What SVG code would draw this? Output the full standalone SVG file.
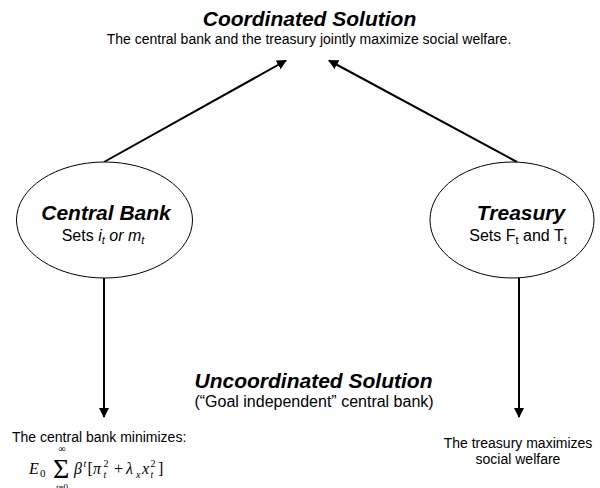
<svg xmlns="http://www.w3.org/2000/svg" width="600" height="488" viewBox="0 0 600 488">
<style>
.h{font-family:"Liberation Sans",Arial,sans-serif;font-weight:bold;font-style:italic;font-size:21px;text-anchor:middle}
.n{font-family:"Liberation Sans",Arial,sans-serif;font-size:14px;text-anchor:middle}
.s{font-family:"Liberation Sans",Arial,sans-serif;font-size:16px;text-anchor:middle}
.m{font-family:"Liberation Serif","Times New Roman",serif;font-size:16px}
.ms{font-family:"Liberation Serif","Times New Roman",serif;font-size:10px}
.i{font-style:italic}
.e{fill:#fff;stroke:#000;stroke-width:1}
.c{stroke:#000;stroke-width:2;fill:none;marker-end:url(#a)}
</style>
<defs>
<marker id="a" viewBox="0 0 10 10" refX="9" refY="5" markerWidth="5" markerHeight="5" orient="auto" markerUnits="strokeWidth">
<path d="M0,0 L10,5 L0,10 z" fill="#000"/>
</marker>
</defs>
<rect width="600" height="488" fill="#fff"/>
<g id="connectors">
<line class="c" x1="104" y1="162" x2="286" y2="60.5"/>
<line class="c" x1="517" y1="162" x2="329" y2="60.5"/>
<line class="c" x1="104" y1="278" x2="104" y2="417"/>
<line class="c" x1="519" y1="278" x2="519" y2="417"/>
</g>
<g id="coordinated">
<text class="h" x="309.5" y="26">Coordinated Solution</text>
<text class="n" x="309" y="44">The central bank and the treasury jointly maximize social welfare.</text>
</g>
<g id="central-bank">
<ellipse class="e" cx="104.5" cy="220" rx="88" ry="58"/>
<text class="h" x="106" y="220">Central Bank</text>
<text class="s" x="103" y="241">Sets <tspan class="i">i</tspan><tspan class="i" font-size="11" dy="3">t</tspan><tspan class="i" dy="-3"> or m</tspan><tspan class="i" font-size="11" dy="3">t</tspan></text>
</g>
<g id="treasury">
<ellipse class="e" cx="512" cy="220" rx="82" ry="58"/>
<text class="h" x="521" y="220">Treasury</text>
<text class="s" x="518" y="241">Sets F<tspan font-size="11" dy="3">t</tspan><tspan dy="-3"> and T</tspan><tspan font-size="11" dy="3">t</tspan></text>
</g>
<g id="uncoordinated">
<text class="h" x="313.5" y="388">Uncoordinated Solution</text>
<text class="s" x="314" y="407">(“Goal independent” central bank)</text>
</g>
<g id="cb-objective">
<text class="n" x="12" y="442" style="text-anchor:start">The central bank minimizes:</text>
<text class="m i" x="29" y="474">E</text>
<text class="m" x="40" y="477" style="font-size:11px">0</text>
<text class="m" x="53" y="478" style="font-size:28px">Σ</text>
<text class="ms" x="62" y="452" text-anchor="middle" style="font-size:10px">∞</text>
<text class="ms" x="62" y="490" text-anchor="middle" style="font-size:9px"><tspan class="i">t</tspan>=0</text>
<text class="m i" x="74" y="474">β</text>
<text class="ms i" x="83.5" y="467">t</text>
<text class="m" x="87.5" y="474">[</text>
<text class="m i" x="93" y="474">π</text>
<text class="ms" x="103.5" y="467">2</text>
<text class="ms i" x="103.5" y="478">t</text>
<text class="m" x="114" y="474">+</text>
<text class="m i" x="126" y="474">λ</text>
<text class="ms i" x="136" y="478">x</text>
<text class="m i" x="142" y="474">x</text>
<text class="ms" x="150.5" y="467">2</text>
<text class="ms i" x="150.5" y="478">t</text>
<text class="m" x="158" y="474">]</text>
</g>
<g id="treasury-objective">
<text class="n" x="518" y="448">The treasury maximizes</text>
<text class="n" x="518" y="464">social welfare</text>
</g>
</svg>
